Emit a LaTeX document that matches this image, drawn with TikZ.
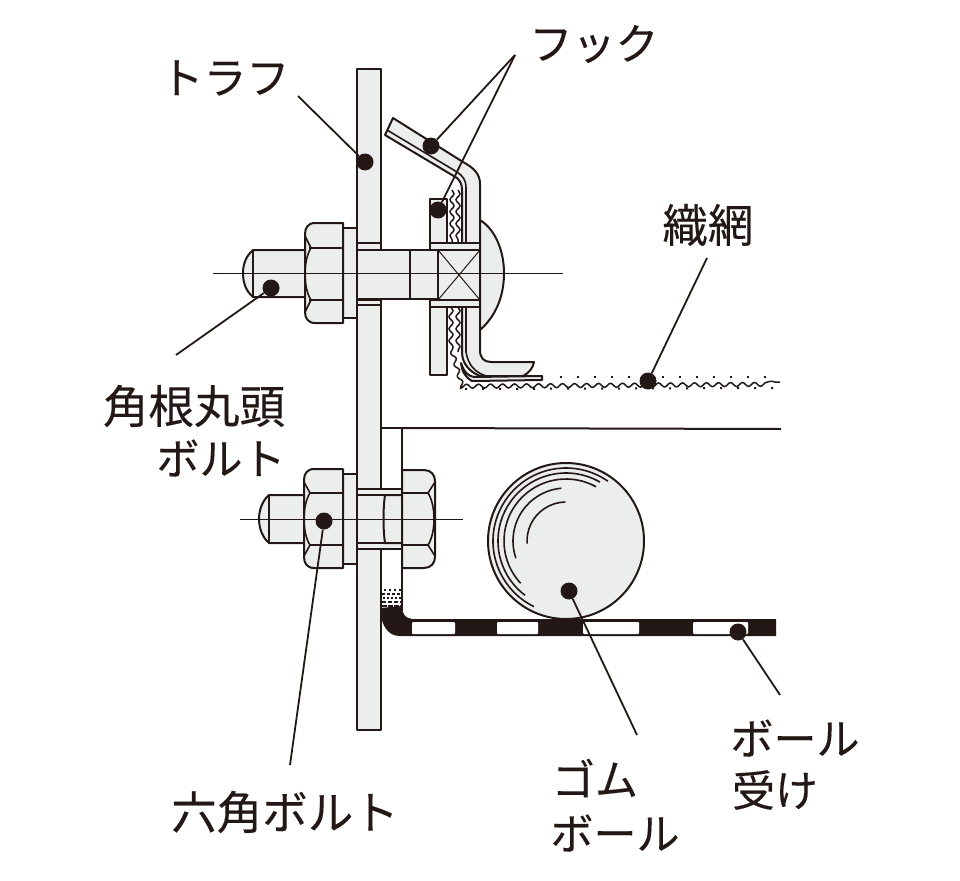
\documentclass[tikz,border=0pt]{standalone}
\usepackage{fontspec}
\newfontfamily\cjk[FakeBold=0.25]{Noto Sans CJK JP}
\usetikzlibrary{decorations.pathmorphing, patterns}
\definecolor{inkcolor}{RGB}{35, 24, 21}
\definecolor{partcolor}{RGB}{236, 238, 238}

\begin{document}
\begin{tikzpicture}[
    x=1pt, y=-1pt,
    part/.style={draw=inkcolor, line width=2pt, fill=partcolor, line join=round},
    clear/.style={draw=inkcolor, line width=2pt, fill=white},
    edge/.style={draw=inkcolor, line width=1.6pt},
    axis/.style={draw=inkcolor, line width=1pt},
    leader/.style={draw=inkcolor, line width=1.8pt},
    netline/.style={draw=inkcolor, line width=1.5pt, decorate, decoration={snake, amplitude=2pt, segment length=12pt}},
    netdots/.style={draw=inkcolor, line width=2pt, dash pattern=on 2pt off 15pt},
    speck/.style={draw=inkcolor, line width=2.4pt},
    dot/.style={circle, fill=inkcolor, minimum size=17pt, inner sep=0pt},
    slot/.style={fill=white, rounded corners=1pt},
    tag/.style={font=\cjk\fontsize{43}{52}\selectfont, text=inkcolor, inner sep=0pt, align=center},
    kanji/.style={font=\cjk\fontsize{45.5}{52}\selectfont, text=inkcolor, inner sep=0pt, align=center}
]
\useasboundingbox (0, 0) rectangle (960, 880);

% Labels
\node[tag] (trough) at (225, 78) {トラフ};
\node[tag] (hook) at (594, 44) {フック};
\node[kanji] (net) at (708, 225) {織網};
\node[kanji] (round) at (194, 406) {角根丸頭};
\node[tag] (roundb) at (221, 458) {ボルト};
\node[kanji] (hexb) at (285, 812) {六角ボルト};
\node[tag] (recv) at (795, 738) {ボール};
\node[tag] (recvb) at (775, 790) {受け};
\node[tag] (rubber) at (595, 778) {ゴム};
\node[tag] (rubberb) at (615, 833) {ボール};

% Trough plate
\draw[part] (357, 69) rectangle (381, 730);

% Upper bracket
\draw[clear] (381, 428) rectangle (402, 610);
\draw[inkcolor, line width=2pt] (402, 428) -- (781, 429);

% Ball receiver
\draw[speck, dash pattern=on 2pt off 3pt] (384, 590) -- (402, 590);
\draw[speck, dash pattern=on 3pt off 2pt] (382, 594) -- (402, 594);
\draw[speck, dash pattern=on 2pt off 2pt] (383, 598) -- (402, 598);
\draw[speck, dash pattern=on 4pt off 2pt] (382, 602) -- (402, 602);
\draw[speck, dash pattern=on 5pt off 1pt] (382, 606) -- (402, 606);
\fill[inkcolor] (380, 608) .. controls (381, 626) and (388, 636) .. (400, 636) -- (776, 636) -- (776, 619) -- (412, 619) .. controls (405, 618) and (402, 614) .. (402, 606) -- cycle;
\fill[slot] (412, 622) rectangle (455, 634);
\fill[slot] (497, 622) rectangle (538, 634);
\fill[slot] (583, 622) rectangle (639, 634);
\fill[slot] (693, 622) rectangle (748, 634);

% Rubber ball
\node[circle, draw=inkcolor, line width=2pt, fill=partcolor, minimum size=156pt, inner sep=0pt] (ball) at (566, 541) {};
\draw[edge] (566, 541) ++(116:73) arc[start angle=116, end angle=305, radius=73];
\draw[edge] (566, 541) ++(127:68) arc[start angle=127, end angle=300, radius=68];
\draw[edge] (566, 541) ++(137:62) arc[start angle=137, end angle=299, radius=62];
\draw[edge] (566, 541) ++(161:53) arc[start angle=161, end angle=265, radius=53];
\draw[edge] (566, 541) ++(176:39) arc[start angle=176, end angle=269, radius=39];

% Woven net
\draw[netline] (452, 190) -- (452, 243);
\draw[netline] (458, 190) -- (458, 243);
\draw[netline] (451, 307) -- (451, 345) -- (462, 384) -- (780, 382);
\draw[netline] (458, 307) -- (458, 352);
\draw[netdots] (465, 389) -- (780, 388);
\draw[netdots] (560, 377) -- (780, 377);

% Washer plates
\draw[part] (430, 199) rectangle (447, 243);
\draw[part] (430, 307) rectangle (447, 375);

% Hook
\draw[part] (393, 118) -- (463, 162) .. controls (474, 168) and (480, 174) .. (480, 184) -- (480, 350)
    .. controls (480, 358) and (484, 362) .. (491, 362) -- (534, 362) .. controls (533, 368) and (529, 373) .. (523, 376)
    -- (480, 376) .. controls (470, 372) and (462, 364) .. (462, 352) -- (462, 190) .. controls (462, 184) and (460, 181) .. (457, 178)
    -- (385, 135) -- cycle;
\draw[edge] (387, 130) -- (457, 172) .. controls (463, 176) and (466, 180) .. (466, 188) -- (466, 243);
\draw[edge] (466, 307) -- (466, 352) .. controls (468, 364) and (474, 372) .. (486, 376);
\draw[part] (461, 363) .. controls (464, 372) and (468, 376) .. (474, 377) -- (542, 376) -- (542, 380) -- (472, 381) .. controls (466, 378) and (462, 372) .. (461, 363) -- cycle;

% Round head (dome) of the square neck bolt
\draw[part] (480, 220) .. controls (496, 230) and (504, 252) .. (504, 273) .. controls (504, 296) and (496, 316) .. (480, 330) -- cycle;

% Square neck bolt
\draw[part] (357, 243) rectangle (381, 250);
\draw[part] (357, 300) rectangle (381, 305);
\draw[part] (357, 250) rectangle (410, 299);
\draw[part] (410, 250) rectangle (438, 299);
\draw[part] (430, 243) rectangle (480, 250);
\draw[part] (430, 300) rectangle (480, 307);
\draw[part] (438, 250) rectangle (480, 300);
\draw[axis] (438, 250) -- (480, 300);
\draw[axis] (438, 300) -- (480, 250);
\draw[part] (253, 250) .. controls (246, 256) and (243, 264) .. (243, 273) .. controls (243, 283) and (246, 291) .. (253, 297) -- (305, 297) -- (305, 250) -- cycle;
\draw[edge] (253, 250) -- (253, 297);
\draw[part] (343, 228) rectangle (357, 318);
\draw[part] (343, 223) -- (315, 223) .. controls (308, 223) and (305, 228) .. (305, 234) -- (305, 312) .. controls (305, 318) and (308, 323) .. (315, 323) -- (343, 323) -- cycle;
\draw[edge] (309, 248) -- (343, 248);
\draw[edge] (309, 300) -- (343, 300);
\draw[edge] (305, 236) -- (311, 248) .. controls (303, 260) and (303, 288) .. (311, 300) -- (305, 312);
\draw[axis] (213, 273) -- (563, 273);

% Hexagon bolt
\draw[part] (357, 489) rectangle (402, 495);
\draw[part] (357, 543) rectangle (402, 549);
\draw[part] (269, 495) .. controls (263, 500) and (259, 509) .. (259, 519) .. controls (259, 529) and (263, 538) .. (269, 543) -- (304, 543) -- (304, 495) -- cycle;
\draw[edge] (269, 495) -- (269, 543);
\draw[part] (343, 474) rectangle (357, 564);
\draw[part] (343, 469) -- (314, 469) .. controls (307, 469) and (304, 474) .. (304, 480) -- (304, 557) .. controls (304, 563) and (307, 568) .. (314, 568) -- (343, 568) -- cycle;
\draw[edge] (309, 493) -- (343, 493);
\draw[edge] (309, 545) -- (343, 545);
\draw[edge] (304, 482) -- (310, 493) .. controls (302, 505) and (302, 533) .. (310, 545) -- (304, 556);
\draw[part] (357, 495) rectangle (385, 543);
\draw[part] (385, 495) -- (402, 495) -- (402, 543) -- (385, 543) .. controls (383, 530) and (383, 508) .. (385, 495) -- cycle;
\draw[part] (402, 470) -- (424, 470) .. controls (431, 470) and (435, 475) .. (435, 481) -- (435, 557) .. controls (435, 563) and (431, 568) .. (424, 568) -- (402, 568) -- cycle;
\draw[edge] (402, 493) -- (428, 493);
\draw[edge] (402, 545) -- (428, 545);
\draw[edge] (435, 482) -- (428, 493) .. controls (436, 505) and (436, 533) .. (428, 545) -- (435, 556);
\draw[axis] (240, 519) -- (463, 519);

% Dots
\node[dot] (dottrough) at (365, 162) {};
\node[dot] (dothooka) at (431, 146) {};
\node[dot] (dothookb) at (438, 210) {};
\node[dot] (dotnet) at (648, 381) {};
\node[dot] (dotround) at (271, 288) {};
\node[dot] (dothex) at (324, 521) {};
\node[dot] (dotball) at (569, 591) {};
\node[dot] (dotrecv) at (738, 632) {};

% Leader ends
\coordinate (endtrough) at (298, 96);
\coordinate (endhook) at (515, 55);
\coordinate (endnet) at (707, 258);
\coordinate (endround) at (176, 355);
\coordinate (endhex) at (290, 765);
\coordinate (endball) at (637, 735);
\coordinate (endrecv) at (780, 695);

% Leaders
\draw[leader] (endtrough) -- (dottrough);
\draw[leader] (endhook) -- (dothooka);
\draw[leader] (endhook) -- (dothookb);
\draw[leader] (endnet) -- (dotnet);
\draw[leader] (endround) -- (dotround);
\draw[leader] (endhex) -- (dothex);
\draw[leader] (endball) -- (dotball);
\draw[leader] (endrecv) -- (dotrecv);

\end{tikzpicture}
\end{document}
